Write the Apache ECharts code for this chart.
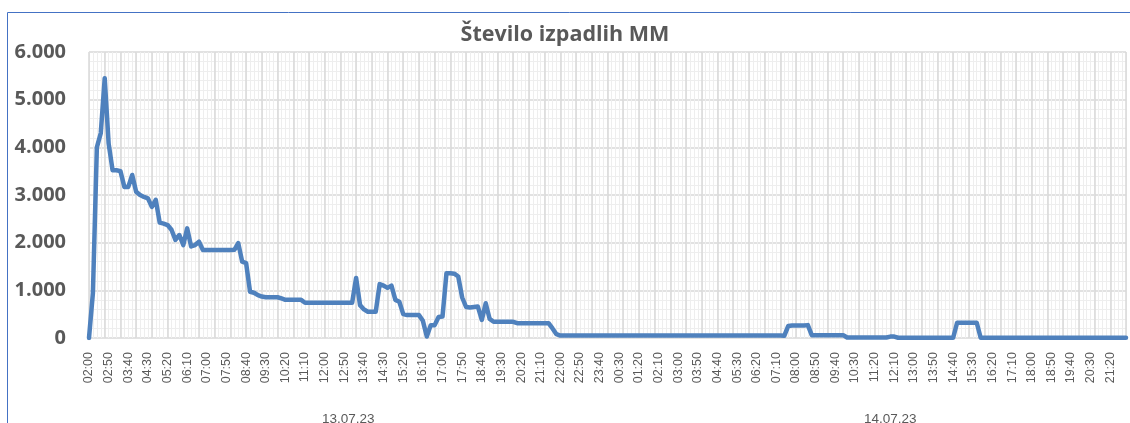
<!DOCTYPE html>
<html>
<head>
    <meta charset="utf-8" />
    <title>Število izpadlih MM</title>
    <script src="https://cdn.jsdelivr.net/npm/echarts@6/dist/echarts.min.js"></script>
    <style>
        html, body { margin: 0; padding: 0; background: #fff; }
        #container { width: 1130px; height: 423px; }
    </style>
</head>
<body>
    <div id="container"></div>
    <script>
        // 10-min samples, 13.07.23 02:00 .. 23:50
        var countDay1 = [
            0, 950, 4000, 4300, 5450, 4080, 3520, 3520, 3500, 3170,
            3170, 3420, 3070, 3000, 2960, 2930, 2750, 2900, 2420, 2400,
            2370, 2270, 2060, 2160, 1950, 2300, 1920, 1950, 2020, 1845,
            1845, 1845, 1845, 1845, 1845, 1845, 1845, 1850, 1990, 1600,
            1570, 970, 950, 900, 870, 855, 855, 855, 855, 830,
            800, 800, 800, 800, 800, 740, 740, 740, 740, 740,
            740, 740, 740, 740, 740, 740, 740, 740, 1260, 690,
            600, 550, 550, 550, 1130, 1100, 1050, 1100, 800, 760,
            500, 480, 480, 480, 480, 360, 30, 270, 270, 440,
            450, 1360, 1360, 1350, 1290, 850, 650, 640, 650, 660,
            380, 730, 400, 340, 340, 340, 340, 340, 340, 310,
            310, 310, 310, 310, 310, 310, 310, 310, 200, 80,
            50, 50, 50, 50, 50, 50, 50, 50, 50, 50, 50, 50
        ];
        // 14.07.23 00:00 .. 22:00
        var countDay2 = [
            50, 50, 50, 50, 50, 50, 50, 50, 50, 50,
            50, 50, 50, 50, 50, 50, 50, 50, 50, 50,
            50, 50, 50, 50, 50, 50, 50, 50, 50, 50,
            50, 50, 50, 50, 50, 50, 50, 50, 50, 50,
            50, 50, 50, 50, 50, 45, 250, 260, 260, 260,
            260, 270, 60, 60, 60, 60, 60, 60, 60, 60,
            60, 10, 10, 10, 10, 10, 10, 10, 10, 10,
            10, 10, 30, 30, 5, 5, 5, 5, 5, 5,
            5, 5, 5, 5, 5, 5, 5, 5, 5, 320,
            320, 320, 320, 320, 320, 5, 5, 5, 5, 5,
            5, 5, 5, 5, 5, 5, 5, 5, 5, 5,
            5, 5, 5, 5, 5, 5, 5, 5, 5, 5,
            5, 5, 5, 5, 5, 5, 5, 5, 5, 5,
            5, 5, 5
        ];
        var dayNames = ['13.07.23', '14.07.23'];
        var dayLabelAt = [66, 204];
        var yTicks = [0, 1000, 2000, 3000, 4000, 5000, 6000];

        var counts = countDay1.concat(countDay2);
        var times = [];
        for (var i = 0; i < counts.length; i++) {
            var m = 120 + i * 10;
            var hh = Math.floor(m / 60) % 24, mm = m % 60;
            times.push((hh < 10 ? '0' : '') + hh + ':' + (mm < 10 ? '0' : '') + mm);
        }

        function fmt(v) {
            return String(v).replace(/\B(?=(\d{3})+(?!\d))/g, '.');
        }

        var grey = '#595959';
        var myChart = echarts.init(document.getElementById('container'));
        var option = {
            animation: false,
            title: {
                text: 'Število izpadlih MM',
                left: 'center',
                top: 19,
                textStyle: { fontFamily: 'Open Sans', fontSize: 21.5, fontWeight: 'bold', color: grey }
            },
            graphic: [{
                type: 'rect',
                silent: true,
                shape: { x: 7.5, y: 12.5, width: 1300, height: 600 },
                style: { fill: 'none', stroke: '#4472c4', lineWidth: 1 }
            }],
            grid: { left: 89, right: 4, top: 52, bottom: 85, outerBoundsMode: 'none', containLabel: false },
            xAxis: [{
                type: 'category',
                data: times,
                boundaryGap: false,
                position: 'bottom',
                offset: 70,
                axisLine: { show: false },
                axisTick: { show: false },
                splitLine: { show: true, interval: 0, lineStyle: { color: '#eeeeee', width: 1 } },
                axisLabel: {
                    interval: function (idx) { return dayLabelAt.indexOf(idx) >= 0; },
                    formatter: function (v, idx) { return dayNames[dayLabelAt.indexOf(idx)] || ''; },
                    color: grey, fontFamily: 'Liberation Sans', fontSize: 13.5, margin: 4
                }
            }, {
                type: 'category',
                data: times,
                boundaryGap: false,
                position: 'bottom',
                axisLine: { show: false },
                axisTick: { show: false },
                splitLine: { show: true, interval: 3, lineStyle: { color: '#d9d9d9', width: 1.5 } },
                axisLabel: {
                    interval: 4,
                    rotate: 90,
                    margin: 14,
                    color: grey,
                    fontFamily: 'Liberation Sans',
                    fontSize: 12.5
                }
            }],
            yAxis: {
                type: 'value',
                min: yTicks[0],
                max: yTicks[yTicks.length - 1],
                interval: 1000,
                axisLine: { show: false },
                axisTick: { show: false },
                splitLine: { lineStyle: { color: '#d9d9d9', width: 1.5 } },
                minorTick: { show: false, splitNumber: 5 },
                minorSplitLine: { show: true, lineStyle: { color: '#eeeeee', width: 1 } },
                axisLabel: {
                    formatter: fmt,
                    margin: 23,
                    color: grey,
                    fontFamily: 'Open Sans',
                    fontWeight: 'bold',
                    fontSize: 20
                }
            },
            series: [{
                type: 'line',
                xAxisIndex: 1,
                data: counts,
                showSymbol: false,
                symbol: 'none',
                lineStyle: { color: '#4f81bd', width: 4.5, cap: 'round', join: 'round' },
                z: 5
            }]
        };
        myChart.setOption(option);
    </script>
</body>
</html>
